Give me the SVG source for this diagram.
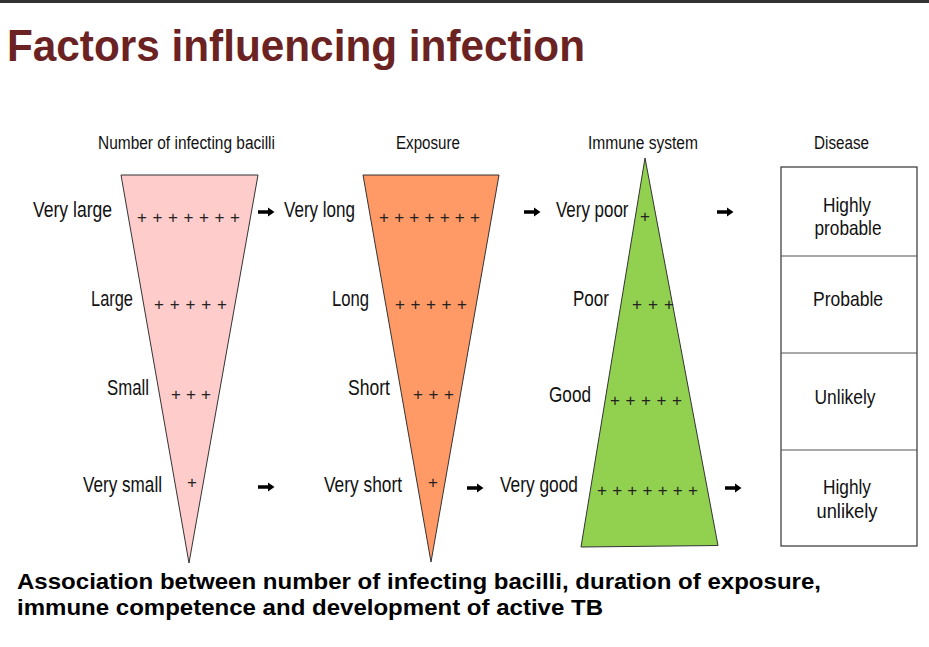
<svg xmlns="http://www.w3.org/2000/svg" width="929" height="647" viewBox="0 0 929 647">
<style>
text{font-family:"Liberation Sans",Arial,Helvetica,sans-serif;fill:#111}
.title{font-size:44px;font-weight:bold;fill:#6b2222}
.hdr{font-size:18px}
.lbl{font-size:22px;text-anchor:start}
.dis{font-size:21px;text-anchor:middle}
.plus{font-size:17px;text-anchor:middle;fill:#222}
.cap{font-size:22px;font-weight:bold;fill:#000}
.tri{stroke:#333;stroke-width:1}
.arrow{fill:#000}
</style>
<rect x="0" y="0" width="929" height="647" fill="#fff"/>
<rect x="0" y="0" width="929" height="3" fill="#333"/>
<text class="title" x="7" y="61" textLength="578" lengthAdjust="spacingAndGlyphs">Factors influencing infection</text>

<g id="col-bacilli">
<text class="hdr" x="98" y="149" textLength="177" lengthAdjust="spacingAndGlyphs">Number of infecting bacilli</text>
<polygon class="tri" points="121,175 258,175 189,563" fill="#ffcccc"/>
<text class="lbl" x="33" y="217" textLength="79" lengthAdjust="spacingAndGlyphs">Very large</text>
<text class="lbl" x="91" y="306" textLength="42" lengthAdjust="spacingAndGlyphs">Large</text>
<text class="lbl" x="107" y="395" textLength="42" lengthAdjust="spacingAndGlyphs">Small</text>
<text class="lbl" x="83" y="492" textLength="79" lengthAdjust="spacingAndGlyphs">Very small</text>
<text class="plus" x="142 157.5 173 188.5 204 219.5 235" y="223">+++++++</text>
<text class="plus" x="159 174.75 190.5 206.25 222" y="310">+++++</text>
<text class="plus" x="176 191 206" y="400">+++</text>
<text class="plus" x="192" y="488">+</text>
</g>

<g id="col-exposure">
<text class="hdr" x="396" y="149" textLength="64" lengthAdjust="spacingAndGlyphs">Exposure</text>
<polygon class="tri" points="363,175 499,175 431,562" fill="#ff9966"/>
<text class="lbl" x="284" y="217" textLength="71" lengthAdjust="spacingAndGlyphs">Very long</text>
<text class="lbl" x="332" y="306" textLength="37" lengthAdjust="spacingAndGlyphs">Long</text>
<text class="lbl" x="348" y="395" textLength="42" lengthAdjust="spacingAndGlyphs">Short</text>
<text class="lbl" x="324" y="492" textLength="78" lengthAdjust="spacingAndGlyphs">Very short</text>
<text class="plus" x="384 399.2 414.3 429.5 444.7 459.8 475" y="223">+++++++</text>
<text class="plus" x="400 415.5 431 446.5 462" y="310">+++++</text>
<text class="plus" x="418 433.5 449" y="400">+++</text>
<text class="plus" x="433" y="488">+</text>
</g>

<g id="col-immune">
<text class="hdr" x="588" y="149" textLength="110" lengthAdjust="spacingAndGlyphs">Immune system</text>
<polygon class="tri" points="645,158 718,545.5 581,547" fill="#92d050"/>
<text class="lbl" transform="translate(556,217) scale(0.77,1)" x="0" y="0">Very poor</text>
<text class="lbl" x="573" y="306" textLength="36" lengthAdjust="spacingAndGlyphs">Poor</text>
<text class="lbl" x="549" y="402" textLength="42" lengthAdjust="spacingAndGlyphs">Good</text>
<text class="lbl" x="500" y="492" textLength="78" lengthAdjust="spacingAndGlyphs">Very good</text>
<text class="plus" x="645" y="222">+</text>
<text class="plus" x="637 653 669" y="310">+++</text>
<text class="plus" x="615 630.5 646 661.5 677" y="406">+++++</text>
<text class="plus" x="602 617.2 632.3 647.5 662.7 677.8 693" y="496">+++++++</text>
</g>

<g id="col-disease">
<text class="hdr" x="814" y="149" textLength="55" lengthAdjust="spacingAndGlyphs">Disease</text>
<rect x="781" y="167" width="136" height="379" fill="#fff" stroke="#333" stroke-width="1.2"/>
<line x1="781" y1="256" x2="917" y2="256" stroke="#555" stroke-width="1.2"/>
<line x1="781" y1="353" x2="917" y2="353" stroke="#555" stroke-width="1.2"/>
<line x1="781" y1="450" x2="917" y2="450" stroke="#555" stroke-width="1.2"/>
<text class="dis" x="847" y="212" textLength="48" lengthAdjust="spacingAndGlyphs">Highly</text>
<text class="dis" x="848" y="235" textLength="67" lengthAdjust="spacingAndGlyphs">probable</text>
<text class="dis" x="848" y="306" textLength="70" lengthAdjust="spacingAndGlyphs">Probable</text>
<text class="dis" x="845" y="404" textLength="61" lengthAdjust="spacingAndGlyphs">Unlikely</text>
<text class="dis" x="847" y="494" textLength="48" lengthAdjust="spacingAndGlyphs">Highly</text>
<text class="dis" x="847" y="518" textLength="61" lengthAdjust="spacingAndGlyphs">unlikely</text>
</g>

<g id="connectors">
<path class="arrow" d="M258,210.2 h10 v-2.7 l6.5,4.5 l-6.5,4.5 v-2.7 h-10 z"/>
<path class="arrow" d="M524,210.2 h10 v-2.7 l6.5,4.5 l-6.5,4.5 v-2.7 h-10 z"/>
<path class="arrow" d="M717,210.2 h10 v-2.7 l6.5,4.5 l-6.5,4.5 v-2.7 h-10 z"/>
<path class="arrow" d="M258,485.2 h10 v-2.7 l6.5,4.5 l-6.5,4.5 v-2.7 h-10 z"/>
<path class="arrow" d="M467,486.2 h10 v-2.7 l6.5,4.5 l-6.5,4.5 v-2.7 h-10 z"/>
<path class="arrow" d="M725,486.2 h10 v-2.7 l6.5,4.5 l-6.5,4.5 v-2.7 h-10 z"/>
</g>

<text class="cap" x="17" y="589" textLength="804" lengthAdjust="spacingAndGlyphs">Association between number of infecting bacilli, duration of exposure,</text>
<text class="cap" x="17" y="615" textLength="586" lengthAdjust="spacingAndGlyphs">immune competence and development of active TB</text>
</svg>
